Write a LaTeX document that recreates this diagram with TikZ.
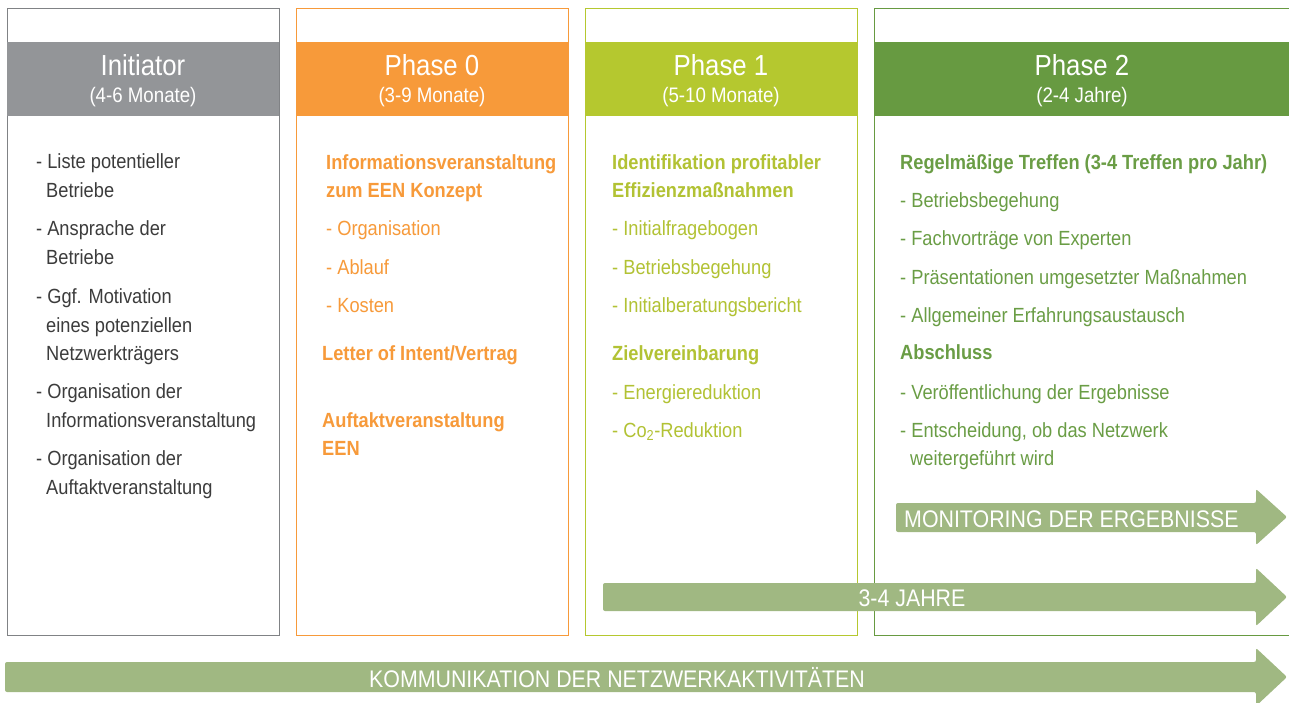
\documentclass[tikz,border=0pt]{standalone}
\usepackage{fontspec}
\setmainfont{Liberation Sans}[FakeStretch=0.89]
\definecolor{initgray}{HTML}{939598}
\definecolor{initline}{HTML}{808285}
\definecolor{inittext}{HTML}{3C3C3C}
\definecolor{orangeA}{HTML}{F79A3A}
\definecolor{limeA}{HTML}{B5C82F}
\definecolor{limeT}{HTML}{B2C234}
\definecolor{greenA}{HTML}{679A41}
\definecolor{greenT}{HTML}{6A9D45}
\definecolor{arrowgreen}{HTML}{A0B882}
\begin{document}
\begin{tikzpicture}[x=1pt,y=-1pt,
  phasebox/.style={draw=#1, line width=1.3pt, fill=white, inner sep=0pt,
    minimum width=272pt, minimum height=627pt, anchor=north west},
  band/.style={fill=#1},
  title/.style={anchor=base, text=white, inner sep=0pt, font=\fontsize{29}{31}\selectfont},
  subtitle/.style={anchor=base, text=white, inner sep=0pt, font=\fontsize{21}{23}\selectfont},
  item/.style={anchor=base west, inner sep=0pt, font=\fontsize{20.5}{24}\selectfont},
  hd/.style={anchor=base west, inner sep=0pt, font=\fontsize{20.5}{24}\selectfont\bfseries},
  arrowbody/.style={fill=arrowgreen, rounded corners=2pt},
  arrowtext/.style={anchor=base, text=white, inner sep=0pt, font=\fontsize{24}{26}\selectfont}]
\useasboundingbox (0,0) rectangle (1289,702);

% phase columns
\node[phasebox=initline] (boxI) at (7,8) {};
\node[phasebox=orangeA] (box0) at (296,8) {};
\node[phasebox=limeA] (box1) at (585,8) {};
\node[phasebox=greenA, minimum width=430pt] (box2) at (874,8) {};

% header bands
\fill[band=initgray] (7,42) rectangle (279,116);
\fill[band=orangeA] (296,42) rectangle (568,116);
\fill[band=limeA] (585,42) rectangle (857,116);
\fill[band=greenA] (874,42) rectangle (1295,116);

\node[title] (tI) at (143,75) {Initiator};
\node[subtitle] (sI) at (143,102) {(4-6 Monate)};
\node[title] (t0) at (432,75) {Phase 0};
\node[subtitle] (s0) at (432,102) {(3-9 Monate)};
\node[title] (t1) at (721,75) {Phase 1};
\node[subtitle] (s1) at (721,102) {(5-10 Monate)};
\node[title] (t2) at (1082,75) {Phase 2};
\node[subtitle] (s2) at (1082,102) {(2-4 Jahre)};

% Initiator tasks
\foreach \yy/\xx/\t [count=\i] in {
  168/36/{- Liste potentieller}, 197/46/{Betriebe},
  235/36/{- Ansprache der}, 264/46/{Betriebe},
  303/36/{- Ggf. Motivation}, 332/46/{eines potenziellen}, 360/46/{Netzwerkträgers},
  398/36/{- Organisation der}, 427/46/{Informationsveranstaltung},
  465/36/{- Organisation der}, 494/46/{Auftaktveranstaltung}}
  \node[item, text=inittext] (ini-\i) at (\xx,\yy) {\t};

% Phase 0
\foreach \yy/\xx/\t [count=\i] in {
  169/326/{Informationsveranstaltung}, 197/326/{zum EEN Konzept},
  360/322/{Letter of Intent/Vertrag},
  427/322/{Auftaktveranstaltung}, 455/322/{EEN}}
  \node[hd, text=orangeA] (p0h-\i) at (\xx,\yy) {\t};
\foreach \yy/\t [count=\i] in {235/{- Organisation}, 274/{- Ablauf}, 312/{- Kosten}}
  \node[item, text=orangeA] (p0-\i) at (326,\yy) {\t};

% Phase 1
\foreach \yy/\t [count=\i] in {
  169/{Identifikation profitabler}, 197/{Effizienzmaßnahmen}, 360/{Zielvereinbarung}}
  \node[hd, text=limeT] (p1h-\i) at (612,\yy) {\t};
\foreach \yy/\t [count=\i] in {
  235/{- Initialfragebogen}, 274/{- Betriebsbegehung}, 312/{- Initialberatungsbericht},
  399/{- Energiereduktion}, 437/{- Co\textsubscript{2}-Reduktion}}
  \node[item, text=limeT] (p1-\i) at (612,\yy) {\t};

% Phase 2
\foreach \yy/\t [count=\i] in {
  169/{Regelmäßige Treffen (3-4 Treffen pro Jahr)}, 359/{Abschluss}}
  \node[hd, text=greenT] (p2h-\i) at (900,\yy) {\t};
\foreach \yy/\xx/\t [count=\i] in {
  207/900/{- Betriebsbegehung}, 245/900/{- Fachvorträge von Experten},
  284/900/{- Präsentationen umgesetzter Maßnahmen}, 322/900/{- Allgemeiner Erfahrungsaustausch},
  399/900/{- Veröffentlichung der Ergebnisse}, 437/900/{- Entscheidung, ob das Netzwerk},
  465/910/{weitergeführt wird}}
  \node[item, text=greenT] (p2-\i) at (\xx,\yy) {\t};

% timeline arrows
\fill[arrowbody] (896,503) -- (1256,503) -- (1256,489) -- (1287,517)
  -- (1256,545) -- (1256,532) -- (896,532) -- cycle;
\node[arrowtext, anchor=base west] (mon) at (904,527) {MONITORING DER ERGEBNISSE};

\fill[arrowbody] (603,583) -- (1256,583) -- (1256,568) -- (1287,597)
  -- (1256,626) -- (1256,611) -- (603,611) -- cycle;
\node[arrowtext] (dur) at (912,606) {3-4 JAHRE};

\fill[arrowbody] (5,662) -- (1256,662) -- (1256,648) -- (1287,677)
  -- (1256,706) -- (1256,692) -- (5,692) -- cycle;
\node[arrowtext] (kom) at (617,687) {KOMMUNIKATION DER NETZWERKAKTIVITÄTEN};
\end{tikzpicture}
\end{document}
